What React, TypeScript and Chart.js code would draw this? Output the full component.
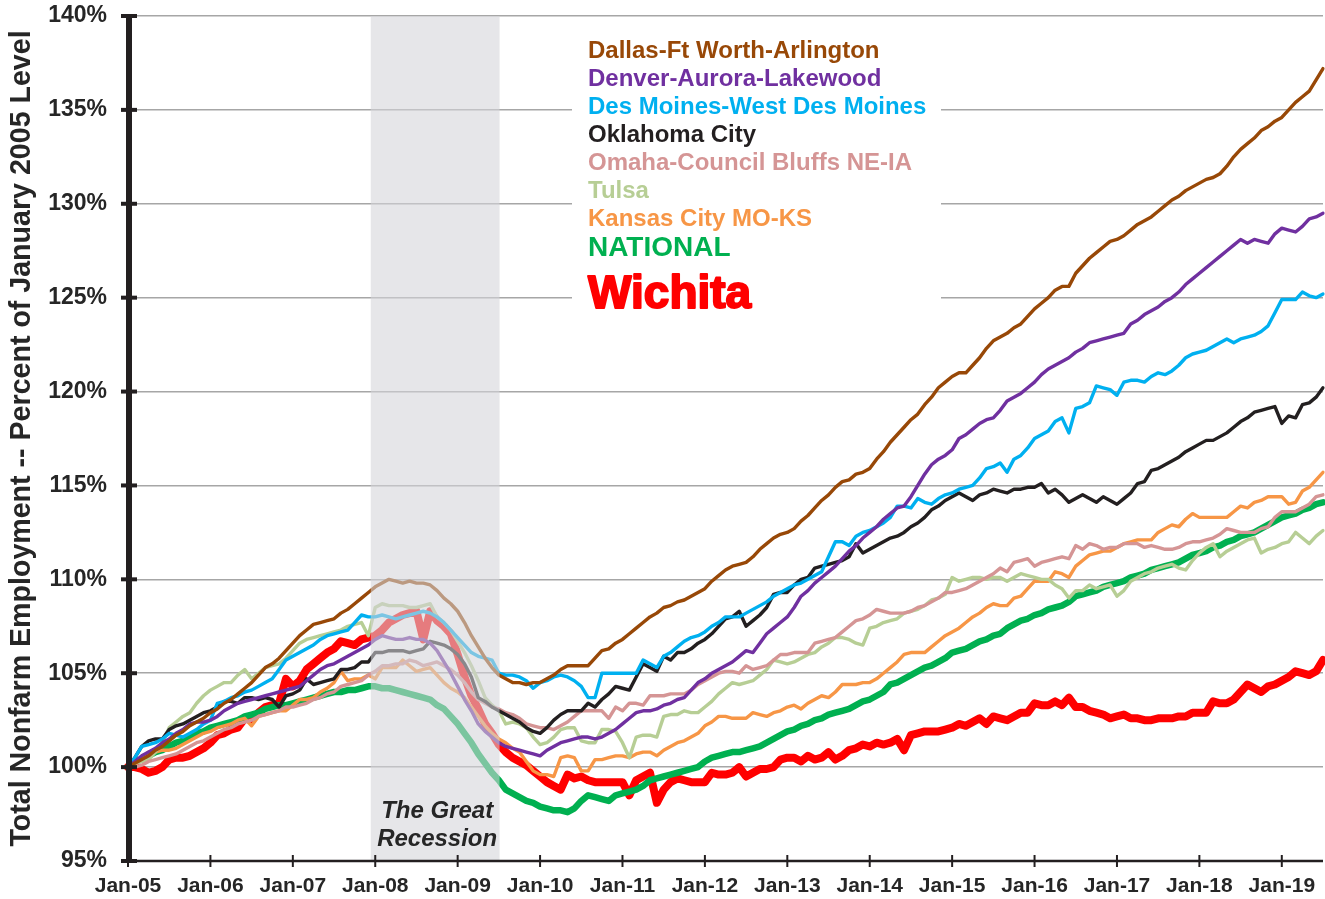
import React, { useEffect, useRef } from 'react';
import { Chart, registerables } from 'chart.js';

Chart.register(...registerables);

const FONT = "'Liberation Sans', Arial, sans-serif";

const monthNames = ['Jan', 'Feb', 'Mar', 'Apr', 'May', 'Jun', 'Jul', 'Aug', 'Sep', 'Oct', 'Nov', 'Dec'];
const years = ['05', '06', '07', '08', '09', '10', '11', '12', '13', '14', '15', '16', '17', '18', '19'];
const monthCount = 175; // Jan-05 .. Jul-19
const labels: string[] = [];
years.forEach((y) => monthNames.forEach((m) => labels.push(`${m}-${y}`)));
labels.length = monthCount;

const yTickValues = [95, 100, 105, 110, 115, 120, 125, 130, 135, 140];
const yTitle = 'Total Nonfarm Employment -- Percent of January 2005 Level';
const recessionText = ['The Great', 'Recession'];
const recessionRange = [35.35, 54.1]; // Dec-07 .. Jun-09 (month index)

const dallas = [
  100.0, 100.2, 100.4, 100.6, 100.9, 101.1, 101.4, 101.7, 101.9, 102.2, 102.4, 102.6,
  102.9, 103.1, 103.4, 103.6, 103.9, 104.2, 104.5, 104.9, 105.3, 105.5, 105.8, 106.2,
  106.6, 107.0, 107.3, 107.6, 107.7, 107.8, 107.9, 108.2, 108.4, 108.7, 109.0, 109.3,
  109.6, 109.8, 110.0, 109.9, 109.8, 109.9, 109.8, 109.8, 109.7, 109.4, 109.0, 108.7,
  108.3, 107.7, 107.0, 106.4, 105.8, 105.3, 104.9, 104.7, 104.5, 104.5, 104.4, 104.5,
  104.5, 104.7, 104.9, 105.2, 105.4, 105.4, 105.4, 105.4, 105.8, 106.2, 106.3, 106.6,
  106.8, 107.1, 107.4, 107.7, 108.0, 108.2, 108.5, 108.6, 108.8, 108.9, 109.1, 109.3,
  109.5, 109.9, 110.2, 110.5, 110.7, 110.8, 110.9, 111.2, 111.6, 111.9, 112.2, 112.4,
  112.5, 112.7, 113.1, 113.4, 113.8, 114.2, 114.5, 114.9, 115.2, 115.3, 115.6, 115.7,
  115.9, 116.4, 116.8, 117.3, 117.7, 118.1, 118.5, 118.8, 119.3, 119.7, 120.2, 120.5,
  120.8, 121.0, 121.0, 121.4, 121.8, 122.3, 122.7, 122.9, 123.1, 123.4, 123.6, 124.0,
  124.4, 124.7, 125.0, 125.4, 125.6, 125.6, 126.3, 126.7, 127.1, 127.4, 127.7, 128.0,
  128.1, 128.3, 128.6, 128.9, 129.1, 129.3, 129.6, 129.9, 130.2, 130.4, 130.7, 130.9,
  131.1, 131.3, 131.4, 131.6, 132.0, 132.5, 132.9, 133.2, 133.5, 133.9, 134.1, 134.4,
  134.6, 135.0, 135.4, 135.7, 136.0, 136.6, 137.2,
];

const denver = [
  100.0, 100.3, 100.6, 100.8, 101.0, 101.3, 101.5, 101.8, 102.0, 102.3, 102.4, 102.4,
  102.5, 102.7, 103.0, 103.2, 103.4, 103.5, 103.6, 103.7, 103.8, 103.9, 104.0, 104.1,
  104.2, 104.3, 104.6, 104.9, 105.2, 105.4, 105.5, 105.7, 105.9, 106.1, 106.3, 106.5,
  106.8, 107.0, 106.9, 106.8, 106.8, 106.9, 106.8, 106.8, 106.6, 106.2, 105.6, 105.0,
  104.3, 103.6, 103.0, 102.3, 101.9, 101.6, 101.3, 101.1, 101.0, 100.9, 100.8, 100.7,
  100.6, 100.9, 101.1, 101.3, 101.4, 101.5, 101.6, 101.6, 101.5, 101.6, 101.8, 102.0,
  102.3, 102.6, 102.9, 103.0, 103.0, 103.1, 103.3, 103.4, 103.6, 103.7, 104.1, 104.5,
  104.7, 105.0, 105.2, 105.4, 105.6, 105.9, 106.2, 106.1, 106.6, 107.1, 107.4, 107.7,
  108.0, 108.5, 109.1, 109.4, 109.8, 110.1, 110.4, 110.7, 111.1, 111.5, 111.8, 112.2,
  112.5, 112.8, 113.2, 113.5, 113.8, 113.9, 114.4, 115.0, 115.6, 116.1, 116.4, 116.6,
  116.9, 117.5, 117.7, 118.0, 118.3, 118.5, 118.6, 119.0, 119.5, 119.7, 119.9, 120.2,
  120.5, 120.9, 121.2, 121.4, 121.6, 121.8, 122.1, 122.3, 122.6, 122.7, 122.8, 122.9,
  123.0, 123.1, 123.6, 123.8, 124.1, 124.3, 124.5, 124.8, 125.0, 125.3, 125.7, 126.0,
  126.3, 126.6, 126.9, 127.2, 127.5, 127.8, 128.1, 127.9, 128.1, 128.0, 127.9, 128.4,
  128.7, 128.6, 128.5, 128.8, 129.2, 129.3, 129.5,
];

const desMoines = [
  100.0, 100.5, 101.1, 101.2, 101.3, 101.5, 101.8, 101.7, 101.6, 101.8, 102.0, 102.3,
  102.5, 103.4, 103.5, 103.7, 103.8, 104.0, 104.1, 104.3, 104.5, 104.7, 105.2, 105.7,
  105.9, 106.1, 106.3, 106.5, 106.8, 107.0, 107.1, 107.2, 107.3, 107.7, 108.1, 108.0,
  108.0, 108.1, 108.0, 107.9, 108.0, 108.1, 108.2, 108.3, 108.2, 108.0, 107.7, 107.3,
  106.9, 106.5, 106.1, 105.9, 105.8, 105.7, 105.0, 104.9, 104.9, 104.8, 104.6, 104.2,
  104.5, 104.6, 104.8, 104.9, 104.8, 104.6, 104.3, 103.7, 103.7, 105.0, 105.0, 105.0,
  105.0, 105.0, 105.0, 105.7, 105.5, 105.3, 105.9, 106.1, 106.4, 106.7, 106.9, 107.0,
  107.2, 107.5, 107.7, 108.0, 108.0, 108.0, 108.2, 108.4, 108.6, 108.8, 109.1, 109.3,
  109.5, 109.7, 109.8, 110.0, 110.2, 110.4, 111.2, 112.0, 112.0, 111.8, 112.3, 112.5,
  112.6, 112.8, 113.0, 113.3, 113.9, 113.9, 113.8, 114.3, 114.1, 114.0, 114.3, 114.5,
  114.6, 114.8, 114.9, 115.0, 115.4, 115.9, 116.0, 116.2, 115.7, 116.4, 116.6, 117.0,
  117.5, 117.7, 117.9, 118.4, 118.6, 117.8, 119.1, 119.2, 119.4, 120.3, 120.2, 120.1,
  119.8, 120.5, 120.6, 120.6, 120.5, 120.8, 121.0, 120.9, 121.1, 121.4, 121.8, 122.0,
  122.1, 122.2, 122.4, 122.6, 122.8, 122.6, 122.8, 122.9, 123.0, 123.2, 123.5, 124.2,
  124.9, 124.9, 124.9, 125.3, 125.1, 125.0, 125.2,
];

const oklahomaCity = [
  100.0, 100.5, 101.1, 101.4, 101.5, 101.5, 102.0, 102.2, 102.3, 102.5, 102.7, 102.9,
  103.0, 103.2, 103.5, 103.5, 103.4, 103.7, 103.7, 103.6, 103.7, 103.6, 103.2, 103.8,
  103.9, 104.1, 104.7, 104.4, 104.5, 104.6, 104.7, 105.2, 105.2, 105.3, 105.6, 105.6,
  106.1, 106.1, 106.2, 106.2, 106.2, 106.1, 106.2, 106.3, 106.7, 106.6, 106.5, 106.3,
  106.0, 105.5, 104.8, 103.7, 103.5, 103.2, 103.0, 102.8, 102.6, 102.4, 102.1, 101.9,
  101.8, 102.1, 102.5, 102.8, 103.0, 103.0, 103.0, 103.4, 103.2, 103.6, 103.9, 104.3,
  104.2, 104.1, 104.8, 105.5, 105.3, 105.1, 105.9, 105.7, 106.1, 106.1, 106.3, 106.6,
  106.8, 107.1, 107.5, 107.9, 108.0, 108.3, 107.5, 107.8, 108.1, 108.5, 109.2, 109.3,
  109.3, 109.7, 110.0, 110.1, 110.6, 110.7, 110.8, 110.9, 111.0, 111.2, 111.9, 111.4,
  111.6, 111.8, 112.0, 112.2, 112.3, 112.5, 112.8, 113.0, 113.3, 113.7, 113.9, 114.2,
  114.4, 114.6, 114.4, 114.2, 114.5, 114.6, 114.8, 114.7, 114.6, 114.8, 114.8, 114.9,
  114.9, 115.1, 114.6, 114.8, 114.5, 114.1, 114.3, 114.5, 114.3, 114.1, 114.4, 114.2,
  114.0, 114.3, 114.6, 115.1, 115.2, 115.8, 115.9, 116.1, 116.3, 116.5, 116.8, 117.0,
  117.2, 117.4, 117.4, 117.6, 117.8, 118.1, 118.4, 118.6, 118.9, 119.0, 119.1, 119.2,
  118.3, 118.7, 118.6, 119.3, 119.4, 119.7, 120.2,
];

const omaha = [
  100.0, 100.0, 100.1, 100.3, 100.4, 100.5, 100.6, 100.7, 100.9, 101.1, 101.3, 101.4,
  101.6, 101.8, 102.0, 102.1, 102.3, 102.4, 102.5, 102.7, 102.8, 102.9, 103.0, 103.2,
  103.2, 103.3, 103.4, 103.6, 103.7, 103.9, 104.0, 104.3, 104.4, 104.5, 104.6, 104.9,
  105.1, 105.4, 105.4, 105.5, 105.5, 105.7, 105.6, 105.4, 105.5, 105.6, 105.4, 105.2,
  104.9, 104.5, 104.0, 103.6, 103.4, 103.2, 103.1, 102.9, 102.8, 102.6, 102.3, 102.2,
  102.1, 102.1, 102.0, 102.2, 102.4, 102.7, 103.0, 103.0, 103.0, 103.0, 102.6, 103.2,
  103.0, 103.4, 103.4, 103.3, 103.8, 103.8, 103.8, 103.9, 103.9, 103.9, 104.1, 104.4,
  104.6, 104.8, 105.0, 105.1, 105.1, 105.0, 105.4, 105.2, 105.3, 105.4, 105.7, 106.0,
  106.0, 106.1, 106.1, 106.1, 106.6, 106.7, 106.8, 106.9, 107.2, 107.5, 107.8, 107.9,
  108.1, 108.4, 108.3, 108.2, 108.2, 108.2, 108.3, 108.5, 108.6, 108.8, 109.0, 109.3,
  109.3, 109.4, 109.5, 109.7, 109.9, 110.1, 110.3, 110.6, 110.4, 110.9, 111.0, 111.1,
  110.7, 110.9, 111.0, 111.1, 111.2, 111.1, 111.8, 111.6, 111.9, 111.8, 111.6, 111.7,
  111.7, 111.9, 111.9, 111.9, 111.7, 111.8, 111.7, 111.6, 111.6, 111.7, 111.9, 112.0,
  112.0, 112.1, 112.2, 112.4, 112.7, 112.6, 112.5, 112.5, 112.5, 112.7, 112.8, 113.3,
  113.6, 113.6, 113.6, 113.8, 114.0, 114.4, 114.5,
];

const tulsa = [
  100.0, 100.2, 100.3, 100.4, 100.8, 101.3, 102.1, 102.4, 102.7, 102.9, 103.4, 103.8,
  104.1, 104.3, 104.5, 104.5, 104.9, 105.2, 104.7, 105.0, 105.3, 105.4, 105.5, 105.8,
  106.2, 106.6, 106.8, 106.9, 107.0, 107.1, 107.2, 107.3, 107.5, 107.6, 107.7, 107.0,
  108.5, 108.7, 108.6, 108.6, 108.6, 108.5, 108.5, 108.6, 108.7, 108.0, 107.7, 107.3,
  106.7, 106.1, 105.4, 104.6, 103.7, 103.3, 103.0, 102.3, 102.4, 102.3, 102.1, 101.6,
  101.2, 101.3, 101.6, 102.0, 102.1, 102.1, 101.4, 101.3, 101.3, 102.0, 102.0, 101.9,
  101.3, 100.5, 101.6, 101.7, 101.7, 101.6, 102.7, 102.8, 102.8, 103.0, 102.9, 102.9,
  103.2, 103.5, 103.9, 104.2, 104.5, 104.4, 104.5, 104.6, 104.9, 105.2, 105.7, 105.6,
  105.5, 105.6, 105.8, 106.0, 106.1, 106.4, 106.6, 106.9, 106.9, 106.8, 106.6, 106.5,
  107.4, 107.5, 107.7, 107.8, 107.9, 108.2, 108.3, 108.4, 108.6, 108.9, 109.0, 109.2,
  110.1, 109.9, 110.0, 110.1, 110.1, 110.0, 110.1, 110.1, 109.9, 110.1, 110.3, 110.2,
  110.1, 110.0, 110.0, 109.7, 109.5, 109.0, 109.4, 109.4, 109.7, 109.5, 109.6, 109.7,
  109.1, 109.4, 109.9, 110.1, 110.3, 110.4, 110.6, 110.7, 110.8, 110.6, 110.5, 111.0,
  111.4, 111.7, 111.9, 111.2, 111.5, 111.7, 111.9, 112.1, 112.2, 111.4, 111.6, 111.7,
  111.9, 112.0, 112.5, 112.2, 111.9, 112.3, 112.6,
];

const kansasCity = [
  100.0, 100.1, 100.5, 100.8, 100.8, 100.9, 100.9, 101.0, 101.2, 101.4, 101.6, 101.8,
  101.9, 102.1, 102.2, 102.3, 102.5, 102.6, 102.2, 102.7, 102.8, 102.9, 103.0, 103.0,
  103.3, 103.6, 103.6, 103.7, 104.0, 104.2, 104.5, 105.1, 104.6, 104.7, 104.7, 104.9,
  104.7, 105.3, 105.3, 105.3, 105.7, 105.4, 105.1, 105.2, 105.3, 104.9, 104.5, 104.2,
  104.0, 103.7, 103.2, 102.7, 102.2, 101.8, 101.5, 101.3, 101.0, 100.8, 100.3, 99.8,
  99.6, 99.6, 99.5, 100.5, 100.6, 100.5, 99.8, 99.8, 100.4, 100.4, 100.5, 100.6,
  100.6, 100.5, 100.7, 100.8, 100.8, 100.6, 100.9, 101.1, 101.3, 101.4, 101.6, 101.8,
  102.2, 102.4, 102.7, 102.7, 102.6, 102.6, 102.6, 102.9, 102.8, 102.7, 102.9, 103.0,
  103.2, 103.3, 103.1, 103.4, 103.6, 103.8, 103.7, 104.0, 104.4, 104.4, 104.4, 104.5,
  104.5, 104.7, 105.0, 105.3, 105.6, 106.0, 106.1, 106.1, 106.1, 106.4, 106.7, 107.0,
  107.2, 107.4, 107.7, 108.0, 108.2, 108.5, 108.7, 108.6, 108.6, 109.0, 109.1, 109.5,
  109.9, 109.9, 109.9, 110.4, 110.3, 110.1, 110.7, 111.0, 111.3, 111.4, 111.5, 111.5,
  111.7, 111.9, 112.0, 112.1, 112.1, 112.1, 112.5, 112.7, 112.9, 112.8, 113.2, 113.5,
  113.3, 113.3, 113.3, 113.3, 113.3, 113.6, 113.9, 113.8, 114.1, 114.2, 114.4, 114.4,
  114.4, 114.0, 114.1, 114.7, 114.9, 115.3, 115.7,
];

const national = [
  100.0, 100.3, 100.4, 100.6, 100.8, 100.9, 101.1, 101.3, 101.4, 101.6, 101.8, 101.9,
  102.1, 102.2, 102.3, 102.4, 102.5, 102.7, 102.8, 102.9, 103.1, 103.2, 103.3, 103.3,
  103.4, 103.5, 103.6, 103.7, 103.8, 103.9, 104.0, 104.0, 104.1, 104.1, 104.2, 104.3,
  104.3, 104.2, 104.2, 104.1, 104.0, 103.9, 103.8, 103.7, 103.6, 103.3, 103.1, 102.7,
  102.3, 101.8, 101.3, 100.7, 100.2, 99.7, 99.3, 98.8, 98.6, 98.4, 98.2, 98.1,
  97.9, 97.8, 97.7, 97.7, 97.6, 97.8, 98.2, 98.5, 98.4, 98.3, 98.2, 98.5,
  98.6, 98.7, 98.8, 99.0, 99.3, 99.4, 99.5, 99.6, 99.7, 99.8, 99.9, 100.0,
  100.3, 100.5, 100.6, 100.7, 100.8, 100.8, 100.9, 101.0, 101.1, 101.3, 101.5, 101.7,
  101.9, 102.0, 102.2, 102.3, 102.5, 102.6, 102.8, 102.9, 103.0, 103.1, 103.3, 103.5,
  103.6, 103.8, 104.0, 104.4, 104.5, 104.7, 104.9, 105.1, 105.3, 105.4, 105.6, 105.8,
  106.1, 106.2, 106.3, 106.5, 106.7, 106.8, 107.0, 107.1, 107.4, 107.6, 107.8, 107.9,
  108.1, 108.2, 108.4, 108.5, 108.6, 108.8, 109.1, 109.2, 109.3, 109.4, 109.6, 109.7,
  109.8, 109.9, 110.1, 110.2, 110.3, 110.5, 110.6, 110.7, 110.8, 110.9, 111.1, 111.3,
  111.4, 111.5, 111.7, 111.8, 112.0, 112.1, 112.3, 112.4, 112.5, 112.7, 112.9, 113.1,
  113.3, 113.4, 113.5, 113.7, 113.8, 114.0, 114.1,
];

const wichita = [
  100.0, 100.0, 99.9, 99.7, 99.8, 100.0, 100.4, 100.5, 100.5, 100.6, 100.8, 101.0,
  101.3, 101.7, 101.8, 102.0, 102.1, 102.6, 102.5, 102.9, 103.2, 103.3, 103.4, 104.7,
  104.3, 104.6, 105.2, 105.5, 105.8, 106.1, 106.3, 106.7, 106.6, 106.5, 106.8, 106.9,
  107.0, 107.3, 107.7, 107.9, 108.1, 108.2, 108.3, 106.8, 108.3, 107.8, 107.5, 107.1,
  106.0, 104.8, 103.8, 103.1, 102.3, 101.8, 101.2, 100.8, 100.5, 100.3, 100.1, 99.8,
  99.5, 99.2, 99.0, 98.8, 99.6, 99.4, 99.5, 99.3, 99.2, 99.2, 99.2, 99.2,
  99.2, 98.5, 99.3, 99.5, 99.7, 98.1, 98.8, 99.2, 99.4, 99.3, 99.2, 99.2,
  99.2, 99.7, 99.6, 99.6, 99.7, 100.0, 99.5, 99.7, 99.9, 99.9, 100.0, 100.4,
  100.5, 100.5, 100.3, 100.6, 100.4, 100.5, 100.8, 100.4, 100.6, 100.9, 101.0, 101.2,
  101.1, 101.3, 101.2, 101.3, 101.5, 100.9, 101.7, 101.8, 101.9, 101.9, 101.9, 102.0,
  102.1, 102.3, 102.2, 102.4, 102.6, 102.3, 102.7, 102.6, 102.5, 102.7, 102.9, 102.9,
  103.4, 103.3, 103.3, 103.5, 103.3, 103.7, 103.2, 103.2, 103.0, 102.9, 102.8, 102.6,
  102.7, 102.8, 102.6, 102.6, 102.5, 102.5, 102.6, 102.6, 102.6, 102.7, 102.7, 102.9,
  102.9, 102.9, 103.5, 103.4, 103.4, 103.6, 104.0, 104.4, 104.2, 104.0, 104.3, 104.4,
  104.6, 104.8, 105.1, 105.0, 104.9, 105.1, 105.7,
];

const seriesNames = [
  'Dallas-Ft Worth-Arlington',
  'Denver-Aurora-Lakewood',
  'Des Moines-West Des Moines',
  'Oklahoma City',
  'Omaha-Council Bluffs NE-IA',
  'Tulsa',
  'Kansas City MO-KS',
  'NATIONAL',
  'Wichita',
];
const seriesData = [dallas, denver, desMoines, oklahomaCity, omaha, tulsa, kansasCity, national, wichita];
const seriesColors = ['#984807', '#7030A0', '#00B0F0', '#231F20', '#D59595', '#B7CE95', '#F79646', '#00B050', '#FF0000'];
const seriesWidths = [3.4, 3.4, 3.4, 3.4, 3.4, 3.4, 3.4, 6.5, 8];

// legend layout (style only)
const legendX = 588;
const legendY = [51, 79, 107, 135, 163, 191, 219, 248, 295];
const legendFonts = [
  `bold 24px ${FONT}`, `bold 24px ${FONT}`, `bold 24px ${FONT}`, `bold 24px ${FONT}`,
  `bold 24px ${FONT}`, `bold 24px ${FONT}`, `bold 24px ${FONT}`, `bold 28px ${FONT}`, `bold 46px ${FONT}`,
];

const AXIS_COLOR = '#231F20';

const decorPlugin = {
  id: 'decor',
  beforeDatasetsDraw(chart: any) {
    const { ctx } = chart;
    ctx.save();
    ctx.fillStyle = '#ffffff';
    ctx.fillRect(572, 30, 369, 292);
    ctx.restore();
  },
  afterDatasetsDraw(chart: any) {
    const { ctx, chartArea, scales } = chart;
    const xs = scales.x;
    const x0 = xs.getPixelForValue(recessionRange[0]);
    const x1 = xs.getPixelForValue(recessionRange[1]);
    ctx.save();
    ctx.fillStyle = 'rgba(212,212,217,0.58)';
    ctx.fillRect(x0, chartArea.top, x1 - x0, chartArea.bottom - chartArea.top);
    ctx.fillStyle = '#262626';
    ctx.font = `italic bold 24px ${FONT}`;
    ctx.textAlign = 'center';
    ctx.textBaseline = 'middle';
    const cx = (x0 + x1) / 2 + 2;
    ctx.fillText(recessionText[0], cx, 811);
    ctx.fillText(recessionText[1], cx, 839);

    // legend
    ctx.textAlign = 'left';
    seriesNames.forEach((name, i) => {
      ctx.font = legendFonts[i];
      ctx.fillStyle = seriesColors[i];
      ctx.fillText(name, legendX, legendY[i]);
      if (i === seriesNames.length - 1) {
        ctx.lineWidth = 2;
        ctx.lineJoin = 'round';
        ctx.strokeStyle = seriesColors[i];
        ctx.strokeText(name, legendX, legendY[i]);
      }
    });
    ctx.restore();
  },
  afterDraw(chart: any) {
    const { ctx, chartArea, scales } = chart;
    const xs = scales.x;
    const ys = scales.y;
    ctx.save();
    ctx.strokeStyle = AXIS_COLOR;
    // x axis line
    ctx.lineWidth = 2.5;
    ctx.beginPath();
    ctx.moveTo(chartArea.left, chartArea.bottom);
    ctx.lineTo(chartArea.right, chartArea.bottom);
    ctx.stroke();
    // x ticks (every January)
    ctx.lineWidth = 2;
    labels.forEach((lab, i) => {
      if (!lab.startsWith('Jan')) return;
      const px = xs.getPixelForValue(i);
      ctx.beginPath();
      ctx.moveTo(px, chartArea.bottom - 6);
      ctx.lineTo(px, chartArea.bottom + 6);
      ctx.stroke();
    });
    // y axis line
    ctx.lineWidth = 6;
    ctx.beginPath();
    ctx.moveTo(chartArea.left + 1, chartArea.top - 2);
    ctx.lineTo(chartArea.left + 1, chartArea.bottom + 2);
    ctx.stroke();
    // y ticks
    ctx.lineWidth = 4;
    yTickValues.forEach((v) => {
      const py = ys.getPixelForValue(v);
      ctx.beginPath();
      ctx.moveTo(chartArea.left - 7, py);
      ctx.lineTo(chartArea.left + 9, py);
      ctx.stroke();
    });
    ctx.restore();
  },
};

export default function App() {
  const canvasRef = useRef<HTMLCanvasElement | null>(null);

  useEffect(() => {
    document.body.style.margin = '0';
    const canvas = canvasRef.current;
    if (!canvas) return;
    const chart = new Chart(canvas, {
      type: 'line',
      data: {
        labels,
        datasets: seriesNames.map((name, i) => ({
          label: name,
          data: seriesData[i],
          borderColor: seriesColors[i],
          backgroundColor: seriesColors[i],
          borderWidth: seriesWidths[i],
          pointRadius: 0,
          pointHoverRadius: 0,
          tension: 0,
          fill: false,
          borderJoinStyle: 'round' as const,
          borderCapStyle: 'round' as const,
        })),
      },
      options: {
        animation: false,
        responsive: false,
        devicePixelRatio: 1,
        events: [],
        layout: { padding: { top: 16, right: 2, left: 0, bottom: 0 } },
        plugins: {
          legend: { display: false },
          tooltip: { enabled: false },
          title: { display: false },
        },
        scales: {
          x: {
            type: 'category',
            offset: false,
            grid: { display: false },
            border: { display: false },
            ticks: {
              autoSkip: false,
              maxRotation: 0,
              minRotation: 0,
              padding: 5,
              color: '#262626',
              font: { family: FONT, weight: 'bold', size: 21 },
              callback: (_v: any, i: number) => (labels[i].startsWith('Jan') ? labels[i] : ''),
            },
            afterFit: (s: any) => {
              s.height = 38;
              s.paddingLeft = 0;
              s.paddingRight = 0;
            },
          },
          y: {
            min: 95,
            max: 140,
            afterBuildTicks: (s: any) => {
              s.ticks = yTickValues.map((v) => ({ value: v }));
            },
            grid: {
              color: (c: any) => (c.tick && c.tick.value === 95 ? 'rgba(0,0,0,0)' : '#A6A6A6'),
              lineWidth: 1.5,
              drawTicks: false,
            },
            border: { display: false },
            ticks: {
              padding: 21,
              color: '#262626',
              font: { family: FONT, weight: 'bold', size: 23 },
              callback: (v: any) => `${v}%`,
            },
            title: {
              display: true,
              text: yTitle,
              color: '#262626',
              font: { family: FONT, weight: 'bold', size: 28.6 },
              padding: { top: 5, bottom: 0 },
            },
            afterFit: (s: any) => {
              s.width = 128;
              s.paddingTop = 0;
              s.paddingBottom = 0;
            },
          },
        },
      },
      plugins: [decorPlugin],
    } as any);
    return () => chart.destroy();
  }, []);

  return (
    <div style={{ position: 'absolute', left: 0, top: 0, width: 1325, height: 899, background: '#fff' }}>
      <canvas ref={canvasRef} width={1325} height={899} style={{ display: 'block' }} />
    </div>
  );
}
